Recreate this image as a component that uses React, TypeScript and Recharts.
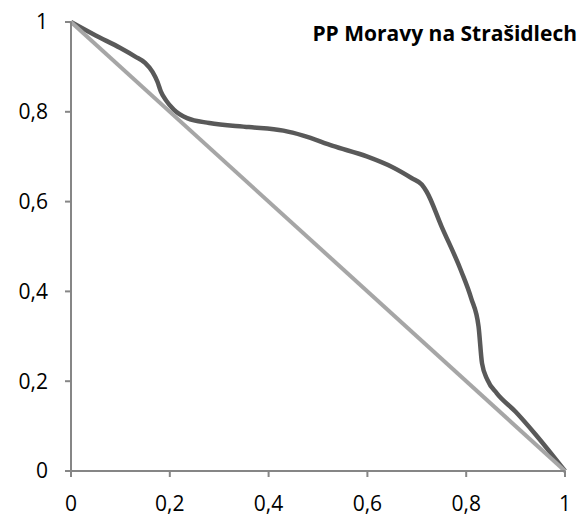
import { LineChart, Line, XAxis, YAxis } from "recharts";

const curveX = [
  0, 0.05, 0.1, 0.13, 0.15, 0.165, 0.175, 0.182, 0.192, 0.208, 0.235, 0.28,
  0.36, 0.43, 0.47, 0.53, 0.6, 0.65, 0.69, 0.71, 0.72, 0.75, 0.79, 0.81, 0.825,
  0.832, 0.843, 0.862, 0.9, 0.94, 1,
];
const curveY = [
  1, 0.97, 0.942, 0.923, 0.909, 0.889, 0.867, 0.845, 0.826, 0.805, 0.786,
  0.775, 0.766, 0.758, 0.747, 0.724, 0.7, 0.677, 0.652, 0.638, 0.622, 0.545,
  0.445, 0.385, 0.322, 0.24, 0.203, 0.173, 0.132, 0.082, 0,
];
const diagX = [0, 1];
const diagY = [1, 0];
const ticks = [0, 0.2, 0.4, 0.6, 0.8, 1];
const title = "PP Moravy na Strašidlech";

const curve = curveX.map((x, i) => ({ x, y: curveY[i] }));
const diagonal = diagX.map((x, i) => ({ x, y: diagY[i] }));

const fmt = (v: number) => String(v).replace(".", ",");
const font = "'Open Sans', sans-serif";
const axisColor = "#868686";

export default function App() {
  return (
    <div style={{ position: "absolute", left: 0, top: 0, width: 579, height: 520, background: "#fff" }}>
      <LineChart
        width={579}
        height={520}
        margin={{ top: 22, right: 14, left: 0, bottom: 0 }}
      >
        <XAxis
          type="number"
          dataKey="x"
          domain={[0, 1]}
          ticks={ticks}
          tickFormatter={fmt}
          height={49}
          stroke={axisColor}
          strokeWidth={2}
          tickSize={6}
          tickMargin={19}
          tick={{ fill: "#000", fontSize: 21, fontFamily: font }}
        />
        <YAxis
          type="number"
          dataKey="y"
          domain={[0, 1]}
          ticks={ticks}
          tickFormatter={fmt}
          width={71}
          stroke={axisColor}
          strokeWidth={2}
          tickSize={6}
          tickMargin={17}
          tick={{ fill: "#000", fontSize: 21, fontFamily: font }}
        />
        <Line
          data={curve}
          dataKey="y"
          type="monotone"
          stroke="#595959"
          strokeWidth={4.5}
          dot={false}
          isAnimationActive={false}
        />
        <Line
          data={diagonal}
          dataKey="y"
          type="linear"
          stroke="#A6A6A6"
          strokeWidth={4}
          dot={false}
          isAnimationActive={false}
        />
      </LineChart>
      <svg
        width={579}
        height={60}
        style={{ position: "absolute", left: 0, top: 0, pointerEvents: "none" }}
      >
        <text
          x={577}
          y={41}
          textAnchor="end"
          fontFamily={font}
          fontWeight="bold"
          fontSize={21}
          fill="#000"
        >
          {title}
        </text>
      </svg>
    </div>
  );
}
